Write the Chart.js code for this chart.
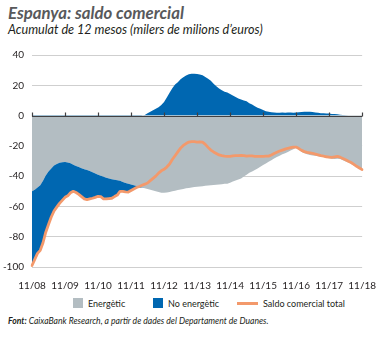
<!DOCTYPE html>
<html>
<head>
<meta charset="utf-8">
<script src="https://cdn.jsdelivr.net/npm/chart.js@4.4.1/dist/chart.umd.min.js"></script>
<style>
  html, body { margin: 0; padding: 0; background: #fff; }
  body { width: 381px; height: 338px; position: relative; overflow: hidden; font-family: Lato, sans-serif; }
  #title { position: absolute; left: 8px; top: 2px; font: italic 700 16.8px Lato, sans-serif; color: #58595b; white-space: nowrap; }
  #sub { position: absolute; left: 8px; top: 22px; font: italic 400 12.6px Lato, sans-serif; color: #231f20; white-space: nowrap; }
  #wrap { position: absolute; left: 0; top: 40px; width: 381px; height: 250px; }
  #legend { position: absolute; left: 0; top: 296px; width: 381px; height: 14px; font: 9px Lato, sans-serif; color: #231f20; }
  .item { position: absolute; top: 0; height: 14px; display: flex; align-items: center; white-space: nowrap; }
  .sw { width: 10px; height: 10px; margin-right: 5px; }
  .ln { width: 21px; height: 3px; margin-right: 5px; }
  #src { position: absolute; left: 8px; top: 316px; font: italic 400 8.6px Lato, sans-serif; color: #231f20; white-space: nowrap; }
  #src b { font-weight: 700; }
</style>
</head>
<body>
<div id="title">Espanya: saldo comercial</div>
<div id="sub">Acumulat de 12 mesos (milers de milions d’euros)</div>
<div id="wrap"><canvas id="c" width="381" height="250"></canvas></div>
<div id="legend">
  <div class="item" style="left:73px"><span class="sw" style="background:#b3bdc2"></span>Energètic</div>
  <div class="item" style="left:153px"><span class="sw" style="background:#0067b1"></span>No energètic</div>
  <div class="item" style="left:237px"><span class="ln" style="background:#f3996b"></span>Saldo comercial total</div>
</div>
<div id="src"><b>Font:</b> CaixaBank Research, a partir de dades del Departament de Duanes.</div>
<script>
// Monthly categories, November 2008 to November 2018 (MM/YY)
const months = [];
for (let i = 0; i <= 120; i++) {
  const m = (10 + i) % 12 + 1;
  const y = 8 + Math.floor((10 + i) / 12);
  months.push(String(m).padStart(2, '0') + '/' + String(y).padStart(2, '0'));
}
const tickLabels = ['11/08','11/09','11/10','11/11','11/12','11/13','11/14','11/15','11/16','11/17','11/18'];
const yTicks = [40, 20, 0, -20, -40, -60, -80, -100];

// Energy balance (12-month cumulative, € bn)
const energy = [
  -50, -49, -47.5, -46, -43, -39.5, -37, -35, -33, -32, -31.2, -30.8,
  -30.7, -31, -31.5, -32.5, -33.3, -34, -34.8, -35.5, -36, -36.6, -37.4, -38.2,
  -39, -39.7, -40.4, -41, -41.6, -42, -42.3, -42.7, -43, -43.8, -44.5, -45,
  -45.5, -46, -46.5, -47, -47.5, -48, -48.5, -49, -49.5, -50, -50.5, -51,
  -51, -50.8, -50.5, -50, -49.6, -49.2, -48.8, -48.5, -48, -47.8, -47.5, -47.2,
  -47, -46.8, -46.6, -46.4, -46.2, -46, -45.8, -45.7, -45.5, -45.3, -45.1, -45,
  -44.3, -43.6, -42.9, -42.2, -41.5, -40.3, -39, -37.8, -36.9, -36, -34.9, -33.8,
  -32.7, -31.6, -30.5, -29.5, -28.4, -27.4, -26.5, -25.6, -24.8, -24, -23.1, -22.2,
  -21.3, -22.5, -24, -24.8, -25.5, -26, -26.3, -26.6, -26.9, -27.2, -27.4, -27.8,
  -28.2, -28.5, -28.6, -28.5, -28.7, -29.5, -30.3, -31, -32, -33, -33.8, -34.8,
  -35.7
];

// Non-energy balance (12-month cumulative, € bn)
const nonEnergy = [
  -49, -46, -43.5, -43, -41, -37.5, -35, -32, -30, -28.5, -26.8, -25.2,
  -23.3, -22, -19.5, -17.5, -17.5, -18, -18.7, -19.5, -19.5, -18.4, -17.2, -15.8,
  -14.3, -13.8, -14.6, -14, -13.2, -12.6, -11.2, -9.8, -7, -6.2, -5.9, -5.5,
  -4, -2.5, -1, -0.5, -0.2, 0.3, 1.5, 2.5, 3.5, 4.5, 5.5, 7,
  9, 12, 15, 18, 20.5, 22, 24, 25.3, 26.5, 27.3, 27.6, 27.6,
  27.4, 27.2, 26.6, 25.5, 24.3, 23, 21, 19.3, 17.8, 16.8, 15.8, 15.2,
  14.2, 13.2, 12.3, 11.3, 10.6, 10, 9.5, 8.2, 7.3, 6.2, 5.2, 4.5,
  3.6, 2.9, 2.5, 2.2, 2, 1.8, 1.9, 2, 1.9, 2, 2, 1.9,
  2, 2.2, 2.4, 2.5, 2.6, 2.5, 2.4, 2.1, 1.8, 1.6, 1.5, 1.4,
  1.3, 1.1, 1, 0.9, 0.6, 0.4, 0.2, 0.1, 0.1, 0.1, 0, 0,
  0
];

// Total trade balance (12-month cumulative, € bn)
const total = [
  -99, -95, -91, -89, -84, -77, -72, -67, -63, -60.5, -58, -56,
  -54, -53, -51, -50, -50.8, -52, -53.5, -55, -55.5, -55, -54.6, -54,
  -53.3, -53.5, -55, -55, -54.8, -54.6, -53.5, -52.5, -50, -50, -50.4, -50.5,
  -49.5, -48.5, -47.5, -46.8, -46, -45.3, -44.5, -43, -41.5, -40, -38, -36.5,
  -35.5, -34, -32, -29, -26.5, -24, -21.5, -19.7, -18.5, -17.5, -17.2, -17.2,
  -17.5, -17.3, -17.6, -19, -21, -22.8, -24, -25, -26, -26.5, -26.8, -27,
  -27, -26.6, -26.5, -26.4, -26.3, -26.5, -26.8, -26.6, -26.6, -26.9, -27, -27,
  -26.9, -26.8, -26.8, -26, -25, -24.2, -23.4, -22.8, -22.2, -21.6, -21.2, -20.8,
  -20.8, -21.8, -23, -23.8, -24.3, -24.6, -25, -25.5, -26, -26.5, -26.8, -27.2,
  -27.4, -27.6, -27.3, -27, -27.5, -28.3, -29.2, -30.2, -31, -32.2, -33.5, -34.6,
  -35.7
];

const GREY = '#b3bdc2';
const BLUE = '#0067b1';
const ORANGE = '#f3996b';
const NONE = 'rgba(0,0,0,0)';

// Zero line with yearly tick marks, drawn over the areas
const zeroAxis = {
  id: 'zeroAxis',
  afterDatasetsDraw(chart) {
    const { ctx, chartArea, scales: { x, y } } = chart;
    const y0 = Math.round(y.getPixelForValue(0)) + 0.5;
    ctx.save();
    ctx.strokeStyle = '#414042';
    ctx.lineWidth = 1.2;
    ctx.beginPath();
    ctx.moveTo(chartArea.left, y0);
    ctx.lineTo(chartArea.right, y0);
    for (let i = 0; i < months.length; i += 12) {
      const px = Math.round(x.getPixelForValue(i)) + 0.5;
      ctx.moveTo(px, y0);
      ctx.lineTo(px, y0 - 4);
    }
    ctx.stroke();
    ctx.restore();
  }
};

new Chart(document.getElementById('c'), {
  type: 'line',
  data: {
    labels: months,
    datasets: [
      {
        label: 'Energètic',
        data: energy,
        backgroundColor: GREY,
        borderColor: NONE,
        borderWidth: 0,
        fill: 'origin',
        order: 3
      },
      {
        label: 'No energètic',
        data: nonEnergy,
        borderColor: NONE,
        borderWidth: 0,
        fill: { target: 'origin', above: BLUE, below: NONE },
        order: 2
      },
      {
        label: 'No energètic (dèficit)',
        data: energy.map((e, i) => e + Math.min(nonEnergy[i], 0)),
        backgroundColor: BLUE,
        borderColor: NONE,
        borderWidth: 0,
        fill: { target: 0 },
        order: 1
      },
      {
        label: 'Saldo comercial total',
        data: total,
        borderColor: ORANGE,
        borderWidth: 2.8,
        fill: false,
        order: 0
      }
    ]
  },
  options: {
    responsive: false,
    devicePixelRatio: 1,
    animation: false,
    events: [],
    elements: { point: { radius: 0 }, line: { tension: 0, borderJoinStyle: 'round', borderCapStyle: 'round' } },
    layout: { padding: { top: 15, right: 15, bottom: 1, left: 0 } },
    plugins: { legend: { display: false }, tooltip: { enabled: false }, filler: { propagate: false } },
    scales: {
      x: {
        grid: { display: false },
        border: { display: false },
        afterFit(scale) { scale.height = 22; },
        ticks: {
          autoSkip: false,
          maxRotation: 0,
          padding: 5,
          color: '#231f20',
          font: { family: 'Lato', size: 10 },
          callback: (v, i) => (i % 12 === 0 ? tickLabels[i / 12] : '')
        }
      },
      y: {
        min: -100,
        max: 40,
        afterFit(scale) { scale.width = 32; },
        afterBuildTicks(scale) { scale.ticks = yTicks.map(v => ({ value: v })); },
        grid: {
          drawTicks: false,
          lineWidth: 1,
          color: (c) => (c.tick && c.tick.value === 0 ? NONE : '#cfcfcf')
        },
        border: { display: false },
        ticks: {
          padding: 8,
          color: '#231f20',
          font: { family: 'Lato', size: 10 },
          callback: (v) => String(v)
        }
      }
    }
  },
  plugins: [zeroAxis]
});
</script>
</body>
</html>
